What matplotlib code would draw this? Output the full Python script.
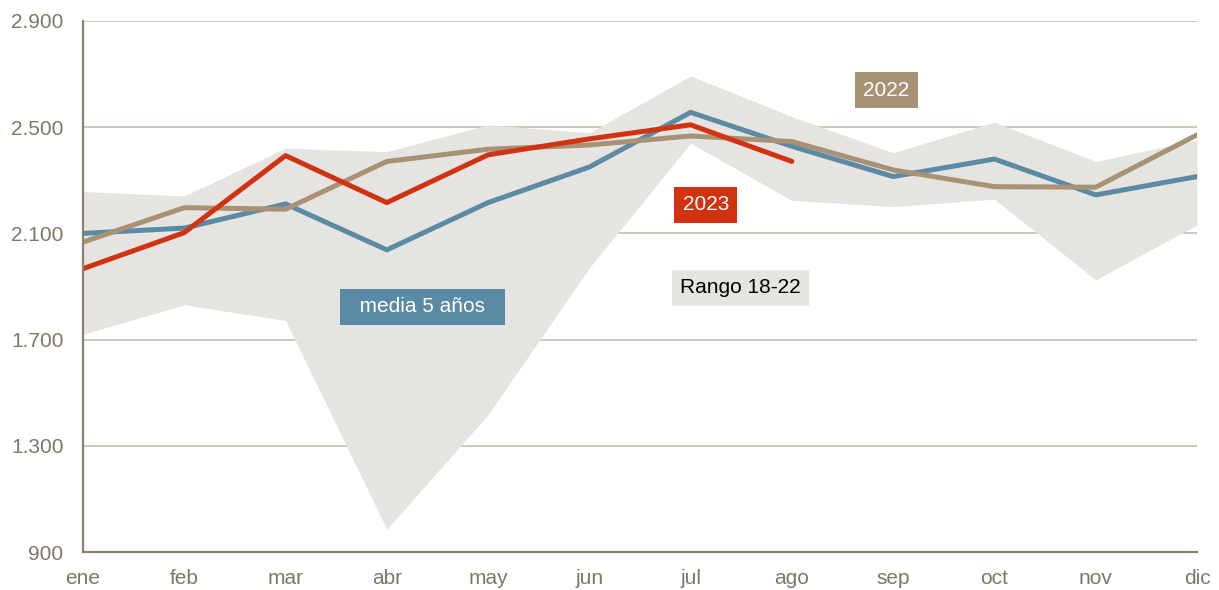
import numpy as np
import matplotlib.pyplot as plt
from matplotlib.ticker import FuncFormatter

plt.rcParams['font.family'] = ['Liberation Sans', 'DejaVu Sans']

months = ["ene", "feb", "mar", "abr", "may", "jun", "jul", "ago", "sep", "oct", "nov", "dic"]

media_5 = [2100, 2120, 2211, 2038, 2216, 2350, 2556, 2428, 2314, 2380, 2245, 2314]
y2023 = [1967, 2103, 2393, 2216, 2396, 2456, 2509, 2371]
y2022 = [2067, 2197, 2191, 2371, 2417, 2433, 2467, 2446, 2339, 2276, 2274, 2471]
rango_max = [2258, 2241, 2421, 2408, 2509, 2479, 2693, 2540, 2404, 2519, 2371, 2452]
rango_min = [1720, 1831, 1772, 986, 1417, 1970, 2440, 2224, 2201, 2229, 1925, 2132]

yticks = [900, 1300, 1700, 2100, 2500, 2900]

c_blue = "#5B8AA5"
c_red = "#D13212"
c_tan = "#A89276"
c_fill = "#E6E4E0"
c_grid = "#C9C3B6"
c_axis = "#8A8170"
c_text = "#7F7767"

fig = plt.figure(figsize=(12.19, 5.90), dpi=100)
ax = fig.add_axes([83 / 1219, 38 / 590, 1114 / 1219, 531 / 590])

x = np.arange(len(months))
ax.fill_between(x, rango_min, rango_max, color=c_fill, lw=0, zorder=1)
ax.plot(x, media_5, color=c_blue, lw=3.6, zorder=3)
ax.plot(x, y2022, color=c_tan, lw=3.6, zorder=4)
ax.plot(x[:len(y2023)], y2023, color=c_red, lw=3.6, zorder=5, solid_capstyle='round')

ax.set_xlim(0, 11)
ax.set_ylim(900, 2900)
ax.set_yticks(yticks)
ax.yaxis.set_major_formatter(FuncFormatter(lambda v, p: f"{int(v):,}".replace(",", ".")))
ax.set_xticks(x)
ax.set_xticklabels(months)
ax.tick_params(axis='both', length=0, labelsize=15, colors=c_text)
ax.tick_params(axis='x', pad=12)
ax.tick_params(axis='y', pad=14)

ax.grid(axis='y', color=c_grid, lw=1.3, zorder=0)
ax.set_axisbelow(True)
for s in ["top", "right"]:
    ax.spines[s].set_visible(False)
for s in ["left", "bottom"]:
    ax.spines[s].set_color(c_axis)
    ax.spines[s].set_linewidth(1.6)
    ax.spines[s].set_zorder(6)

box = dict(boxstyle="square,pad=0.4", lw=0)
ax.text(3.35, 1824, "  media 5 años  ", color="white", fontsize=15, ha="center", va="center",
        bbox=dict(box, fc=c_blue), zorder=7)
ax.text(6.15, 2208, "2023", color="white", fontsize=15, ha="center", va="center",
        bbox=dict(box, fc=c_red), zorder=7)
ax.text(6.49, 1895, "Rango 18-22", color="black", fontsize=15, ha="center", va="center",
        bbox=dict(box, fc=c_fill), zorder=7)
ax.text(7.93, 2640, "2022", color="white", fontsize=15, ha="center", va="center",
        bbox=dict(box, fc=c_tan), zorder=7)

fig.savefig("out.png", dpi=100)
